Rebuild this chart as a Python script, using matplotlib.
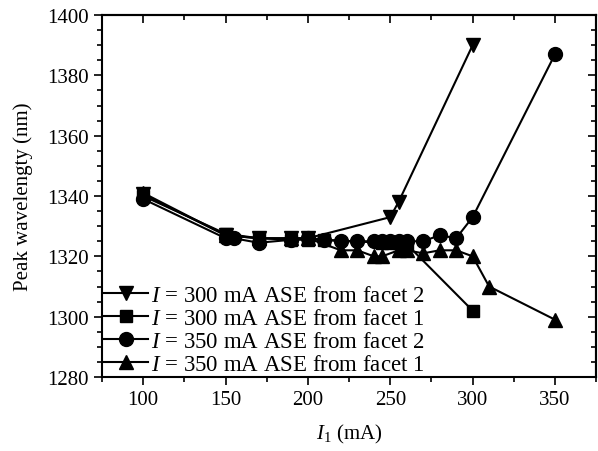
import matplotlib
matplotlib.use("Agg")
import matplotlib.pyplot as plt
from matplotlib.ticker import MultipleLocator

plt.rcParams['font.family'] = ['Liberation Serif', 'DejaVu Serif']
plt.rcParams['mathtext.fontset'] = 'custom'
plt.rcParams['mathtext.rm'] = 'Liberation Serif'
plt.rcParams['mathtext.it'] = 'Liberation Serif:italic'

# I = 300 mA, ASE from facet 2
x_300_f2 = [100, 150, 170, 190, 200, 250, 255, 300]
y_300_f2 = [1340.5, 1327, 1326, 1326, 1326, 1333, 1338, 1390]

# I = 300 mA, ASE from facet 1
x_300_f1 = [100, 150, 170, 190, 200, 210, 245, 250, 255, 260, 300]
y_300_f1 = [1340, 1327.5, 1326, 1325.5, 1325.5, 1325.5, 1324.5, 1324.5, 1324.5, 1324, 1302]

# I = 350 mA, ASE from facet 2
x_350_f2 = [100, 150, 155, 170, 190, 200, 210, 220, 230, 240, 245, 250, 255, 260, 270, 280, 290, 300, 350]
y_350_f2 = [1339, 1326, 1326, 1324.5, 1325.5, 1326, 1325.5, 1325, 1325, 1325, 1325, 1325, 1325, 1325,
            1325, 1327, 1326, 1333, 1387]

# I = 350 mA, ASE from facet 1
x_350_f1 = [100, 150, 170, 190, 200, 220, 230, 240, 245, 255, 260, 270, 280, 290, 300, 310, 350]
y_350_f1 = [1341, 1327, 1326, 1326, 1326, 1322, 1322, 1320, 1320, 1322, 1322, 1321, 1322, 1322,
            1320, 1310, 1299]

labels = ["$I$ = 300 mA ASE from facet 2", "$I$ = 300 mA ASE from facet 1",
          "$I$ = 350 mA ASE from facet 2", "$I$ = 350 mA ASE from facet 1"]

fig = plt.figure(figsize=(5.98, 4.52), dpi=100)
ax = fig.add_axes([0.1706, 0.1637, 0.8264, 0.8009])

style = dict(color="black", lw=1.5, markersize=10)
ax.plot(x_300_f2, y_300_f2, marker="v", label=labels[0], **style)
ax.plot(x_300_f1, y_300_f1, marker="s", label=labels[1], **dict(style, markersize=8.5))
ax.plot(x_350_f2, y_350_f2, marker="o", label=labels[2], **style)
ax.plot(x_350_f1, y_350_f1, marker="^", label=labels[3], **style)

ax.set_xlim(75, 375)
ax.set_ylim(1280, 1400)
ax.xaxis.set_major_locator(MultipleLocator(50))
ax.xaxis.set_minor_locator(MultipleLocator(25))
ax.yaxis.set_major_locator(MultipleLocator(20))
ax.yaxis.set_minor_locator(MultipleLocator(5))

ax.tick_params(which="both", direction="out", top=False, right=False, labelsize=15, width=1.2)
ax.tick_params(which="major", length=6)
ax.tick_params(which="minor", length=3.5)
sec_x = ax.secondary_xaxis("top")
sec_x.xaxis.set_major_locator(MultipleLocator(50))
sec_x.xaxis.set_minor_locator(MultipleLocator(25))
sec_x.tick_params(which="both", direction="in", labeltop=False, width=1.2)
sec_x.tick_params(which="major", length=6)
sec_x.tick_params(which="minor", length=3.5)
sec_y = ax.secondary_yaxis("right")
sec_y.yaxis.set_major_locator(MultipleLocator(20))
sec_y.yaxis.set_minor_locator(MultipleLocator(5))
sec_y.tick_params(which="both", direction="in", labelright=False, width=1.2)
sec_y.tick_params(which="major", length=6)
sec_y.tick_params(which="minor", length=3.5)
for s in list(ax.spines.values()) + [sec_x.spines["top"], sec_y.spines["right"]]:
    s.set_linewidth(1.5)

ax.set_xlabel("$I_1$ (mA)", fontsize=15, labelpad=9)
ax.set_ylabel("Peak wavelengty (nm)", fontsize=15, labelpad=10)

ax.legend(loc="lower left", frameon=False, fontsize=16.5, handlelength=1.9,
          handletextpad=0.15, borderaxespad=0.0, borderpad=0.1, labelspacing=0.08)

fig.savefig("out.png", dpi=100)
